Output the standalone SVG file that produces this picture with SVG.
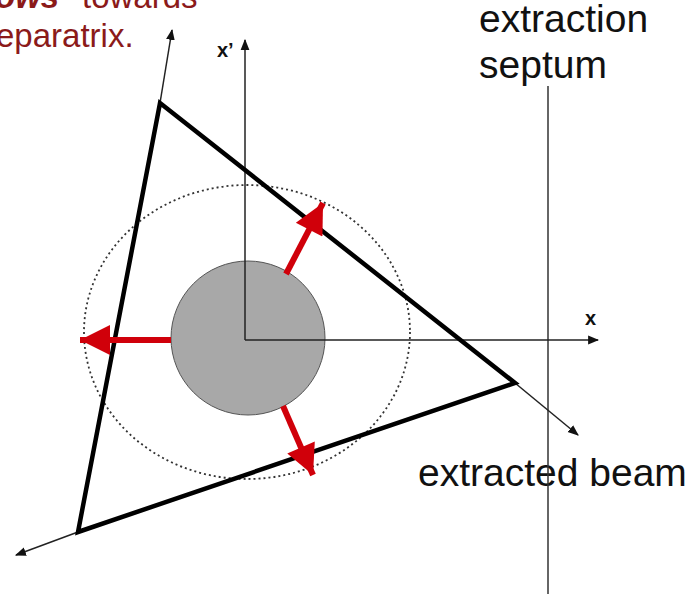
<svg xmlns="http://www.w3.org/2000/svg" width="696" height="594" viewBox="0 0 696 594">
<style>
.txt{font-family:"Liberation Sans",Arial,sans-serif;fill:#111}
.red{font-family:"Liberation Sans",Arial,sans-serif;fill:#8b1a1a}
.ax{font-family:"Liberation Sans",Arial,sans-serif;font-weight:bold;fill:#111;font-size:20px}
.thin{stroke:#222;stroke-width:1.5;fill:none}
.thick{stroke:#000;stroke-width:4.5;fill:none;stroke-linejoin:miter}
.redl{stroke:#d0000a;stroke-width:6;fill:none}
</style>
<defs>
<marker id="ah" viewBox="0 0 10 10" refX="9" refY="5" markerWidth="11" markerHeight="11" markerUnits="userSpaceOnUse" orient="auto">
<path d="M0,1 L10,5 L0,9 Z" fill="#111"/>
</marker>
<marker id="rh" viewBox="0 0 10 10" refX="10" refY="5" markerWidth="38" markerHeight="30" markerUnits="userSpaceOnUse" orient="auto">
<path d="M0,0 L10,5 L0,10 Z" fill="#d0000a"/>
</marker>
</defs>
<rect width="696" height="594" fill="#fff"/>
<g id="title">
<text class="red" x="-5" y="8" font-size="33"><tspan font-weight="bold" font-style="italic">ows</tspan><tspan x="82">towards</tspan></text>
<text class="red" x="-4" y="47" font-size="33">eparatrix.</text>
</g>
<g id="septum-label">
<text class="txt" x="479" y="32" font-size="39">extraction</text>
<text class="txt" x="479" y="78" font-size="39">septum</text>
</g>
<g id="beam-label">
<text class="txt" x="418" y="486" font-size="39">extracted beam</text>
</g>
<g id="septum"><line x1="548" y1="86" x2="548" y2="594" stroke="#333" stroke-width="1.5"/></g>
<g id="ellipse"><ellipse cx="247" cy="332" rx="163" ry="147" fill="none" stroke="#333" stroke-width="1.8" stroke-dasharray="2,3"/></g>
<g id="core"><circle cx="248" cy="338" r="77" fill="#a8a8a8" stroke="#555" stroke-width="1"/></g>
<g id="connectors">
<line class="thin" x1="245" y1="340" x2="245" y2="40" marker-end="url(#ah)"/>
<line class="thin" x1="245" y1="340" x2="598" y2="340" marker-end="url(#ah)"/>
<line class="thin" x1="160" y1="103" x2="172" y2="30" marker-end="url(#ah)"/>
<line class="thin" x1="78" y1="532" x2="16" y2="555" marker-end="url(#ah)"/>
<line class="thin" x1="515" y1="383" x2="578" y2="435" marker-end="url(#ah)"/>
<polygon class="thick" points="160,103 515,383 78,532"/>
<line class="redl" x1="171" y1="340" x2="80" y2="340" marker-end="url(#rh)"/>
<line class="redl" x1="286" y1="274" x2="323" y2="203" marker-end="url(#rh)"/>
<line class="redl" x1="283" y1="406" x2="313" y2="475" marker-end="url(#rh)"/>
</g>
<g id="axis-labels">
<text class="ax" x="217" y="57">x’</text>
<text class="ax" x="585" y="325">x</text>
</g>
</svg>
